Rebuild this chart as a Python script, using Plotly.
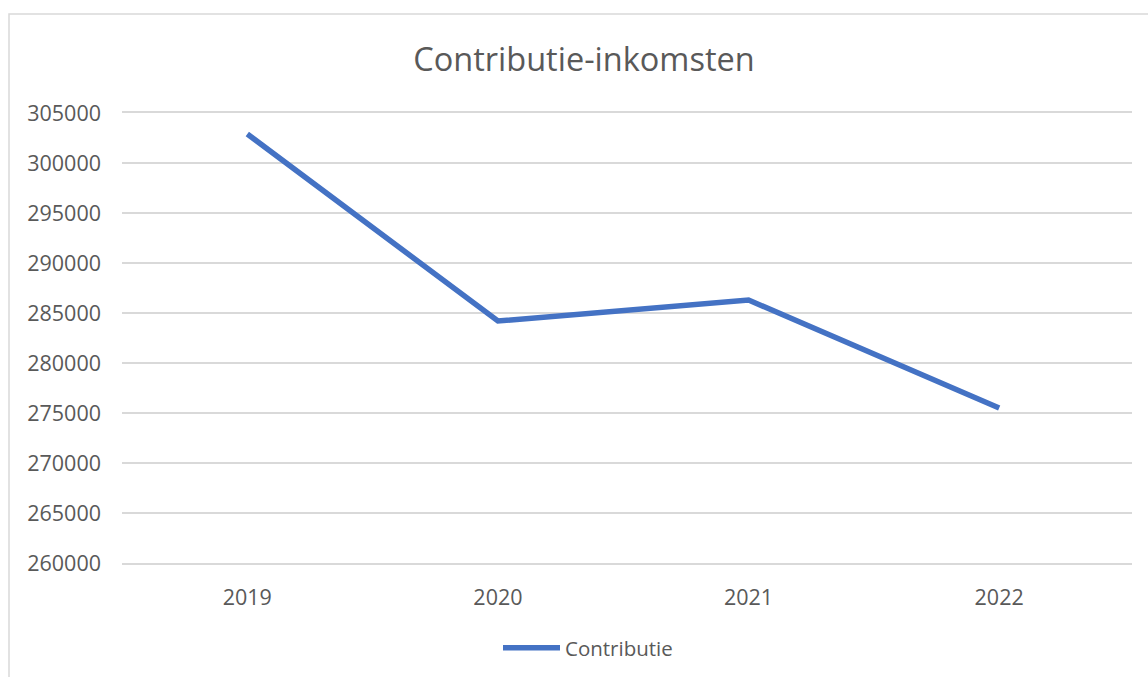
import plotly.graph_objects as go

years = ["2019", "2020", "2021", "2022"]
contributie = [302900, 284200, 286300, 275500]
series_name = "Contributie"
title_text = "Contributie-inkomsten"

W, H = 1148, 677
L, R, T, B = 122, 16, 113, 114
pw, ph = W - L - R, H - T - B

def px_to_paper_x(px):
    return (px - L) / pw

def px_to_paper_y(py):
    return (H - B - py) / ph

fig = go.Figure()
fig.add_trace(go.Scatter(
    x=years, y=contributie, mode="lines", name=series_name,
    line=dict(color="#4472C4", width=5.5),
))

font_family = "Open Sans, Lato, sans-serif"
fig.update_layout(
    width=W, height=H,
    margin=dict(l=L, r=R, t=T, b=B),
    paper_bgcolor="white", plot_bgcolor="white",
    title=dict(text=title_text, x=584 / W, xanchor="center", xref="container",
               y=1 - 60 / H, yanchor="middle", yref="container",
               font=dict(family=font_family, size=32.5, color="#595959")),
    showlegend=True,
    legend=dict(orientation="h", x=588 / W, xanchor="center", xref="container",
                y=1 - 648 / H, yanchor="middle", yref="container",
                font=dict(family=font_family, size=20.5, color="#595959"),
                itemwidth=57, bgcolor="rgba(0,0,0,0)"),
    xaxis=dict(type="category", range=[-0.5, len(years) - 0.47], showgrid=False,
               showline=True, mirror=True, linecolor="#D9D9D9",
               linewidth=1.5, ticks="", ticklabelstandoff=14,
               tickfont=dict(family=font_family, size=21.5, color="#595959"),
               fixedrange=True),
    yaxis=dict(range=[260000, 305000], dtick=5000, tick0=260000, showgrid=True,
               gridcolor="#D9D9D9", gridwidth=1.5, zeroline=False, showline=False,
               ticks="", ticklabelstandoff=20, tickformat="d",
               tickfont=dict(family=font_family, size=21.5, color="#595959"),
               fixedrange=True),
    shapes=[dict(type="rect", xref="paper", yref="paper",
                 x0=px_to_paper_x(9), x1=px_to_paper_x(1170),
                 y0=px_to_paper_y(700), y1=px_to_paper_y(14),
                 line=dict(color="#D9D9D9", width=1.5), fillcolor="rgba(0,0,0,0)",
                 layer="below")],
)

fig.write_html("out.html", config={"displayModeBar": False},
               post_script="document.body.style.margin='0';")
